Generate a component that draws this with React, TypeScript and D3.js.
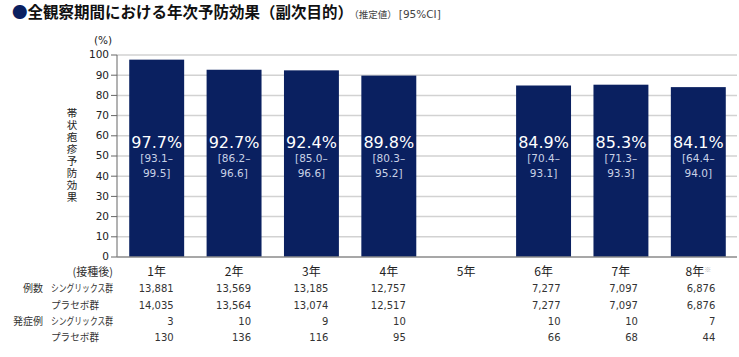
import React from "react";
import * as d3 from "d3";

const categories = ["1年", "2年", "3年", "4年", "5年", "6年", "7年", "8年"];
const efficacy: (number | null)[] = [97.7, 92.7, 92.4, 89.8, null, 84.9, 85.3, 84.1];
const ciLow: (number | null)[] = [93.1, 86.2, 85.0, 80.3, null, 70.4, 71.3, 64.4];
const ciHigh: (number | null)[] = [99.5, 96.6, 96.6, 95.2, null, 93.1, 93.3, 94.0];
const shingrixN: (number | null)[] = [13881, 13569, 13185, 12757, null, 7277, 7097, 6876];
const placeboN: (number | null)[] = [14035, 13564, 13074, 12517, null, 7277, 7097, 6876];
const shingrixCases: (number | null)[] = [3, 10, 9, 10, null, 10, 10, 7];
const placeboCases: (number | null)[] = [130, 136, 116, 95, null, 66, 68, 44];
const yTicks = [0, 10, 20, 30, 40, 50, 60, 70, 80, 90, 100];

const W = 739;
const H = 357;
const JP = "'Noto Sans CJK JP', 'Noto Sans', sans-serif";
const NUM = "'DejaVu Sans', Verdana, sans-serif";
const NAVY = "#0a2060";

export default function App() {
  const x = d3.scaleBand<string>().domain(categories).range([118, 737]).paddingInner(0.29).paddingOuter(0.145);
  const y = d3.scaleLinear().domain([0, 100]).range([257, 55]);
  const fmt = d3.format(",");
  const cx = (c: string) => (x(c) as number) + x.bandwidth() / 2;

  const headY = 272;
  const rowY = [288, 305, 321, 337];
  const rows = [shingrixN, placeboN, shingrixCases, placeboCases];

  return (
    <svg width={W} height={H} style={{ position: "absolute", left: 0, top: 0, background: "#fff" }}>
      {/* title */}
      <text x={12} y={18} fontFamily={JP} fontSize={15.5} fontWeight={700} fill="#111">
        <tspan fill={NAVY}>●</tspan>全観察期間における年次予防効果（副次目的）
        <tspan fontSize={9.5} fontWeight={400} fill="#444" dx={1}>（推定値）</tspan>
        <tspan fontSize={10.5} fontWeight={400} fill="#444" fontFamily={NUM} dx={2}>[95%CI]</tspan>
      </text>

      {/* gridlines */}
      {yTicks.filter(t => t > 0).map(t => (
        <line key={t} x1={117} x2={737} y1={y(t)} y2={y(t)} stroke="#d2d2d2" strokeWidth={1.5} />
      ))}
      {/* y axis */}
      <line x1={117} x2={117} y1={y(100)} y2={y(0)} stroke="#666" strokeWidth={1} />
      {yTicks.map(t => (
        <g key={t}>
          <line x1={111} x2={117} y1={y(t)} y2={y(t)} stroke="#666" strokeWidth={1} />
          <text x={109} y={y(t)} dy="0.33em" textAnchor="end" fontFamily={NUM} fontSize={10.5} fill="#222">{t}</text>
        </g>
      ))}
      <text x={103} y={44} textAnchor="middle" fontFamily={NUM} fontSize={10.5} fill="#222">(%)</text>
      <text x={72} y={y(50)} textAnchor="middle" fontFamily={JP} fontSize={10.5} fill="#222"
        style={{ writingMode: "vertical-rl", letterSpacing: "1.5px" } as React.CSSProperties}>
        帯状疱疹予防効果
      </text>

      {/* bars */}
      {categories.map((c, i) => {
        const v = efficacy[i];
        if (v == null) return null;
        const lo = ciLow[i] as number;
        const hi = ciHigh[i] as number;
        return (
          <g key={c}>
            <rect x={x(c)} y={y(v)} width={x.bandwidth()} height={y(0) - y(v)} fill={NAVY} />
            <text x={cx(c)} y={y(54)} textAnchor="middle" fontFamily={NUM} fontSize={16} fill="#fff">{v.toFixed(1)}%</text>
            <text x={cx(c)} y={y(54) + 14} textAnchor="middle" fontFamily={NUM} fontSize={10.5} fill="#c9d2e6">[{lo.toFixed(1)}–</text>
            <text x={cx(c)} y={y(54) + 29} textAnchor="middle" fontFamily={NUM} fontSize={10.5} fill="#c9d2e6">{hi.toFixed(1)}]</text>
          </g>
        );
      })}
      {/* x axis */}
      <line x1={117} x2={737} y1={y(0)} y2={y(0)} stroke="#8a8a8a" strokeWidth={1.5} />

      {/* table */}
      <text x={113} y={headY} dy="0.35em" textAnchor="end" fontFamily={JP} fontSize={11} fill="#333">(接種後)</text>
      {categories.map(c => (
        <text key={c} x={cx(c)} y={headY} dy="0.35em" textAnchor="middle" fontFamily={JP} fontSize={12} fill="#222">
          {c}
          {c === "8年" ? <tspan fontSize={7} fill="#bbb" dy="-4">※</tspan> : null}
        </text>
      ))}
      <text x={43} y={rowY[0]} dy="0.35em" textAnchor="end" fontFamily={JP} fontSize={10} fill="#333">例数</text>
      <text x={43} y={rowY[2]} dy="0.35em" textAnchor="end" fontFamily={JP} fontSize={10} fill="#333">発症例</text>
      {rowY.map((ry, r) => (
        <text key={r} x={51} y={ry} dy="0.35em" fontFamily={JP} fontSize={10} fill="#333"
          textLength={r % 2 === 0 ? 62 : 48} lengthAdjust="spacingAndGlyphs">
          {r % 2 === 0 ? "シングリックス群" : "プラセボ群"}
        </text>
      ))}
      {rows.map((arr, r) =>
        categories.map((c, i) => {
          const v = arr[i];
          if (v == null) return null;
          return (
            <text key={`${r}-${c}`} x={cx(c) + 17} y={rowY[r]} dy="0.35em" textAnchor="end" fontFamily={NUM} fontSize={10} fill="#333">
              {fmt(v)}
            </text>
          );
        })
      )}
    </svg>
  );
}
